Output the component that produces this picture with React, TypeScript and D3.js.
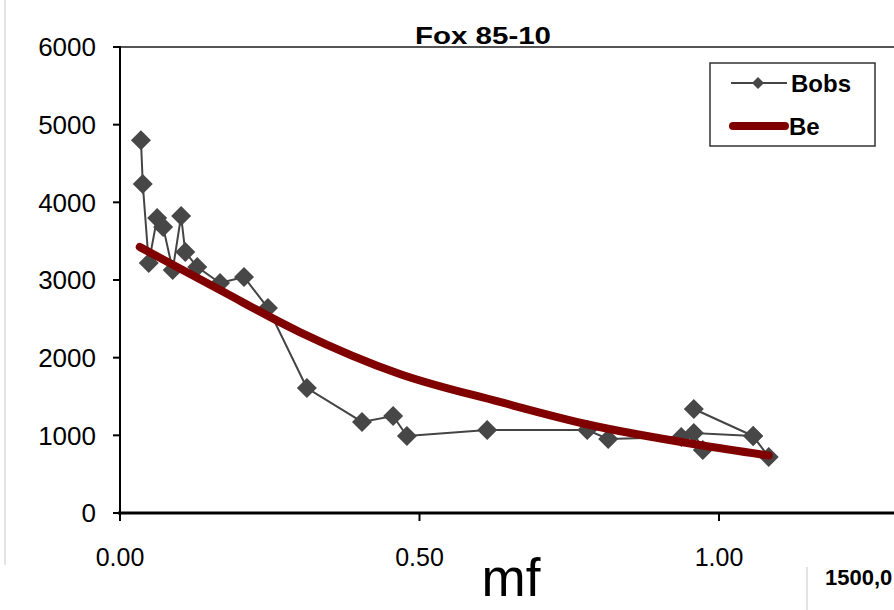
import React from "react";
import * as d3 from "d3";

const obsMf = [0.035, 0.038, 0.048, 0.062, 0.072, 0.088, 0.102, 0.109, 0.129, 0.167, 0.207, 0.247, 0.312, 0.404, 0.456, 0.479, 0.613, 0.780, 0.815, 0.937, 0.973, 0.958, 1.057, 0.958, 1.057, 1.083];
const obsB = [4800, 4236, 3219, 3798, 3682, 3129, 3824, 3360, 3167, 2961, 3039, 2639, 1609, 1172, 1249, 991, 1069, 1069, 953, 979, 811, 1030, 991, 1339, 991, 721];

const beMf = [0.033, 0.167, 0.30, 0.467, 0.634, 0.785, 0.968, 1.083];
const beB = [3425, 2870, 2330, 1790, 1430, 1133, 875, 740];

const xTicks = [0, 0.5, 1.0];
const yTicks = [0, 1000, 2000, 3000, 4000, 5000, 6000];

const W = 894, H = 610;
const font = "'Liberation Sans', Arial, sans-serif";

export default function App() {
  const x = d3.scaleLinear().domain([0, 1.5]).range([120, 1018.5]);
  const y = d3.scaleLinear().domain([0, 6000]).range([513, 47]);

  const obsPts: [number, number][] = obsMf.map((m, i) => [x(m), y(obsB[i])]);
  const bePts: [number, number][] = beMf.map((m, i) => [x(m), y(beB[i])]);
  const lineGen = d3.line();
  const beLine = d3.line().curve(d3.curveMonotoneX);

  const diamond = (cx: number, cy: number, r: number) =>
    `M${cx},${cy - r}L${cx + r},${cy}L${cx},${cy + r}L${cx - r},${cy}Z`;

  return (
    <svg width={W} height={H} style={{ position: "absolute", left: 0, top: 0, background: "#fff" }}>
      <rect x={0} y={0} width={W} height={H} fill="#fff" />
      {/* outer thin lines */}
      <line x1={5} y1={0} x2={5} y2={565} stroke="#c8c8c8" strokeWidth={1} />
      <line x1={807} y1={567} x2={807} y2={610} stroke="#c8c8c8" strokeWidth={1} />
      <text x={825} y={585} fontFamily={font} fontWeight="bold" fontSize={22} fill="#000">1500,0</text>

      {/* top border */}
      <line x1={120} y1={47} x2={W} y2={47} stroke="#555" strokeWidth={2} />

      {/* y axis */}
      <line x1={120} y1={46} x2={120} y2={514} stroke="#000" strokeWidth={2} />
      {yTicks.map((t) => (
        <g key={t}>
          <line x1={113} x2={120} y1={y(t)} y2={y(t)} stroke="#000" strokeWidth={2} />
          <text x={96} y={y(t)} dy="0.36em" textAnchor="end" fontFamily={font} fontSize={26} fill="#000">{t}</text>
        </g>
      ))}

      {/* x axis */}
      <line x1={118} y1={513} x2={W} y2={513} stroke="#000" strokeWidth={3} />
      {xTicks.map((t) => (
        <g key={t}>
          <line x1={x(t)} x2={x(t)} y1={513} y2={521} stroke="#000" strokeWidth={2} />
          <text x={x(t)} y={566} textAnchor="middle" fontFamily={font} fontSize={25} fill="#000">{t.toFixed(2)}</text>
        </g>
      ))}
      <text x={511} y={596} textAnchor="middle" fontFamily={font} fontSize={53} fill="#000">mf</text>

      {/* title */}
      <text x={483} y={44} textAnchor="middle" fontFamily={font} fontWeight="bold" fontSize={24} textLength={136} lengthAdjust="spacingAndGlyphs" fill="#000">Fox 85-10</text>

      {/* Bobs */}
      <path d={lineGen(obsPts) || ""} fill="none" stroke="#444" strokeWidth={2} />
      {obsPts.map((p, i) => (
        <path key={i} d={diamond(p[0], p[1], 10)} fill="#474747" />
      ))}

      {/* Be */}
      <path d={beLine(bePts) || ""} fill="none" stroke="#800000" strokeWidth={8} strokeLinecap="round" />

      {/* legend */}
      <rect x={710} y={63} width={165} height={83} fill="#fff" stroke="#333" strokeWidth={1.5} />
      <line x1={731} x2={787} y1={83} y2={83} stroke="#444" strokeWidth={2} />
      <path d={diamond(758, 83, 6)} fill="#474747" />
      <text x={791} y={92} fontFamily={font} fontWeight="bold" fontSize={24} fill="#000">Bobs</text>
      <line x1={733} x2={785} y1={126} y2={126} stroke="#800000" strokeWidth={8} strokeLinecap="round" />
      <text x={789} y={135} fontFamily={font} fontWeight="bold" fontSize={24} fill="#000">Be</text>
    </svg>
  );
}
